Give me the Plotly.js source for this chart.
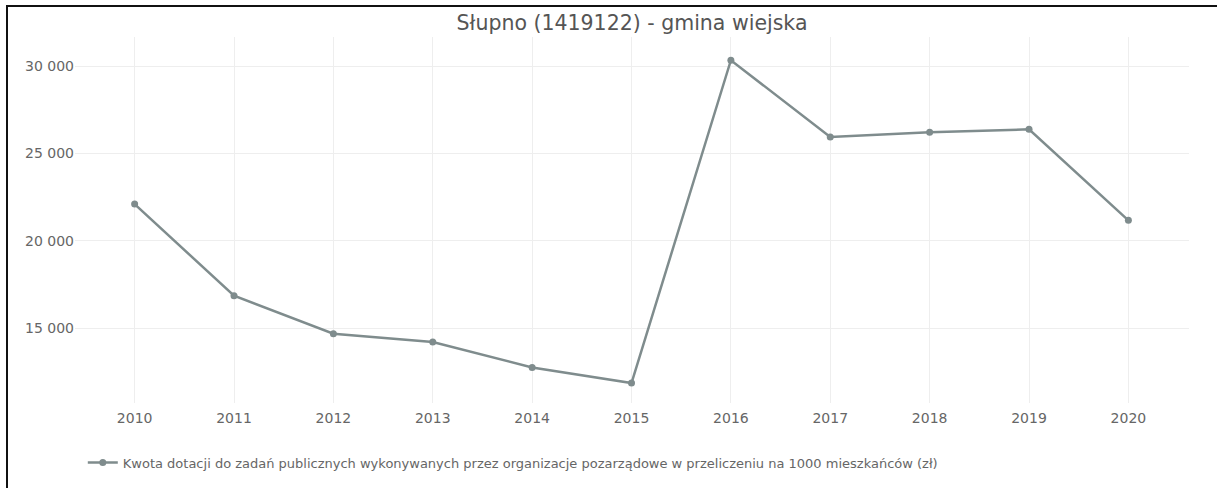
<!DOCTYPE html>
<html>
<head>
<meta charset="utf-8">
<script src="https://cdn.plot.ly/plotly-3.0.1.min.js"></script>
<style>
  html, body { margin: 0; padding: 0; background: #fff; overflow: hidden; }
  #frame { position: absolute; left: 6px; top: 5px; width: 1300px; height: 600px;
           border-left: 2px solid #111; border-top: 2px solid #111; overflow: hidden; }
  #chart { position: absolute; left: 0; top: 0; width: 1209px; height: 481px; }
</style>
</head>
<body>
<div id="frame"><div id="chart"></div></div>
<script>
const years = [2010, 2011, 2012, 2013, 2014, 2015, 2016, 2017, 2018, 2019, 2020];
const values = [22105, 16860, 14685, 14210, 12760, 11865, 30330, 25940, 26205, 26380, 21175];
const seriesName = "Kwota dotacji do zadań publicznych wykonywanych przez organizacje pozarządowe w przeliczeniu na 1000 mieszkańców (zł)";
const chartTitle = "Słupno (1419122) - gmina wiejska";
const yTicks = [15000, 20000, 25000, 30000];

const fontFam = "Verdana, 'DejaVu Sans', sans-serif";
const trace = {
  x: years, y: values, type: "scatter", mode: "lines+markers", name: seriesName,
  line: { color: "#7f8c8d", width: 2.5 },
  marker: { color: "#7f8c8d", size: 7 },
  showlegend: true
};
const layout = {
  width: 1209, height: 481,
  margin: { l: 67, r: 28, t: 30, b: 85 },
  paper_bgcolor: "#fff", plot_bgcolor: "#fff",
  separators: ", ",
  font: { family: fontFam, size: 14, color: "#666" },
  title: { text: chartTitle, x: 0.5, xref: "paper", y: 0.967, yref: "container", yanchor: "middle",
           font: { family: fontFam, size: 20.5, color: "#555" } },
  xaxis: { range: [2009.4, 2020.61], tickvals: years, ticktext: years.map(String),
           showgrid: true, gridcolor: "#eeeeee", zeroline: false, showline: false,
           ticklabelstandoff: 5,
           tickfont: { size: 14, color: "#666" } },
  yaxis: { range: [10727, 31659], tickvals: yTicks, tickformat: ",d",
           showgrid: true, gridcolor: "#eeeeee", zeroline: false, showline: false,
           tickfont: { size: 14, color: "#666" } },
  legend: { orientation: "h", x: 0.007, xanchor: "left", y: 0.053, yref: "container", yanchor: "middle",
            font: { size: 13, color: "#666" } },
  hovermode: "closest"
};
Plotly.newPlot("chart", [trace], layout, { displayModeBar: false, responsive: false });
</script>
</body>
</html>
